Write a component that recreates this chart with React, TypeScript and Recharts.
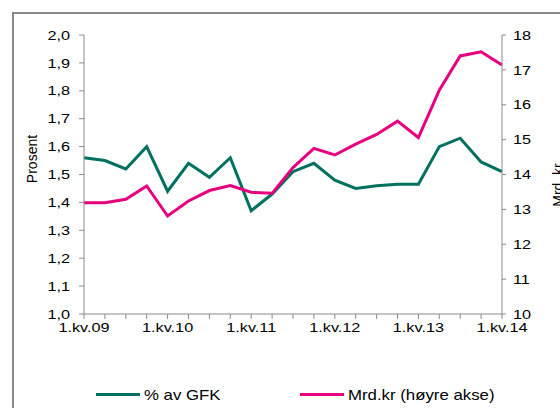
import React from "react";
import { LineChart, Line, XAxis, YAxis } from "recharts";

const quarters = [
  "1.kv.09", "2.kv.09", "3.kv.09", "4.kv.09",
  "1.kv.10", "2.kv.10", "3.kv.10", "4.kv.10",
  "1.kv.11", "2.kv.11", "3.kv.11", "4.kv.11",
  "1.kv.12", "2.kv.12", "3.kv.12", "4.kv.12",
  "1.kv.13", "2.kv.13", "3.kv.13", "4.kv.13",
  "1.kv.14",
];

// % av GFK (venstre akse)
const shareOfGfk = [
  1.56, 1.55, 1.52, 1.6, 1.44, 1.54, 1.49, 1.56, 1.37, 1.43, 1.51,
  1.54, 1.48, 1.45, 1.46, 1.465, 1.465, 1.6, 1.63, 1.545, 1.51,
];

// Mrd. kr (høyre akse)
const billionsNok = [
  13.19, 13.19, 13.29, 13.67, 12.81, 13.24, 13.54, 13.68, 13.49, 13.46, 14.2,
  14.75, 14.56, 14.87, 15.15, 15.53, 15.06, 16.42, 17.4, 17.52, 17.14,
];

const leftTicks = [1.0, 1.1, 1.2, 1.3, 1.4, 1.5, 1.6, 1.7, 1.8, 1.9, 2.0];
const rightTicks = [10, 11, 12, 13, 14, 15, 16, 17, 18];

const GREEN = "#00705F";
const PINK = "#E6007E";
const AXIS = "#8a8a8a";
const FONT = "'Liberation Sans', Arial, sans-serif";

const data = quarters.map((q, i) => ({ q, pct: shareOfGfk[i], mrd: billionsNok[i] }));

const fmtComma = (v: number) => v.toFixed(1).replace(".", ",");

function XTick({ x, y, payload, index }: any) {
  if (index % 4 !== 0) return <g />;
  return (
    <text
      transform={`translate(${x},${y}) scale(1.25,1)`}
      textAnchor="middle"
      dy="0.71em"
      fontSize={13}
      fontFamily={FONT}
      fill="#000"
    >
      {payload.value}
    </text>
  );
}

function LeftTick({ x, y, payload }: any) {
  return (
    <text
      transform={`translate(${x},${y}) scale(1.25,1)`}
      textAnchor="end"
      dy="0.36em"
      fontSize={13}
      fontFamily={FONT}
      fill="#000"
    >
      {fmtComma(payload.value)}
    </text>
  );
}

function RightTick({ x, y, payload }: any) {
  return (
    <text
      transform={`translate(${x},${y}) scale(1.25,1)`}
      textAnchor="start"
      dy="0.36em"
      fontSize={13}
      fontFamily={FONT}
      fill="#000"
    >
      {payload.value}
    </text>
  );
}

function LegendItem({ color, label, left }: { color: string; label: string; left: number }) {
  return (
    <div style={{ position: "absolute", left, top: 386, display: "flex", alignItems: "center" }}>
      <div style={{ width: 44, height: 3, background: color, marginRight: 4 }} />
      <span
        style={{
          fontFamily: FONT,
          fontSize: 15,
          color: "#000",
          display: "inline-block",
          transform: "scaleX(1.12)",
          transformOrigin: "left center",
          whiteSpace: "nowrap",
        }}
      >
        {label}
      </span>
    </div>
  );
}

export default function App() {
  return (
    <div
      style={{
        position: "absolute",
        left: 0,
        top: 0,
        width: 560,
        height: 408,
        overflow: "hidden",
        background: "#fff",
      }}
    >
      <div
        style={{
          position: "absolute",
          left: 12,
          top: 12,
          width: 620,
          height: 520,
          border: `2px solid ${AXIS}`,
        }}
      />
      <LineChart
        width={560}
        height={408}
        data={data}
        margin={{ top: 35, right: 18, bottom: 64, left: 24 }}
        style={{ position: "absolute", left: 0, top: 0 }}
      >
        <XAxis
          dataKey="q"
          interval={0}
          height={30}
          tickSize={5}
          tickMargin={4}
          tick={<XTick />}
          axisLine={{ stroke: AXIS }}
          tickLine={{ stroke: AXIS }}
        />
        <YAxis
          yAxisId="left"
          width={60}
          domain={[1, 2]}
          ticks={leftTicks}
          tickSize={5}
          tickMargin={9}
          tick={<LeftTick />}
          axisLine={{ stroke: AXIS }}
          tickLine={{ stroke: AXIS }}
          label={{
            content: () => (
              <text
                x={37}
                y={159}
                transform="rotate(-90 37 159)"
                textAnchor="middle"
                fontSize={14}
                fontFamily={FONT}
                fill="#000"
              >
                Prosent
              </text>
            ),
          }}
        />
        <YAxis
          yAxisId="right"
          orientation="right"
          width={40}
          domain={[10, 18]}
          ticks={rightTicks}
          tickSize={4}
          tickMargin={7}
          tick={<RightTick />}
          axisLine={{ stroke: AXIS }}
          tickLine={{ stroke: AXIS }}
          label={{
            content: () => (
              <text
                x={563}
                y={185}
                transform="rotate(-90 563 185)"
                textAnchor="middle"
                fontSize={14}
                fontFamily={FONT}
                fill="#000"
              >
                Mrd. kr
              </text>
            ),
          }}
        />
        <Line
          yAxisId="left"
          dataKey="pct"
          type="linear"
          stroke={GREEN}
          strokeWidth={3}
          dot={false}
          isAnimationActive={false}
        />
        <Line
          yAxisId="right"
          dataKey="mrd"
          type="linear"
          stroke={PINK}
          strokeWidth={3}
          dot={false}
          isAnimationActive={false}
        />
      </LineChart>
      <LegendItem color={GREEN} label="% av GFK" left={96} />
      <LegendItem color={PINK} label="Mrd.kr (høyre akse)" left={300} />
    </div>
  );
}
